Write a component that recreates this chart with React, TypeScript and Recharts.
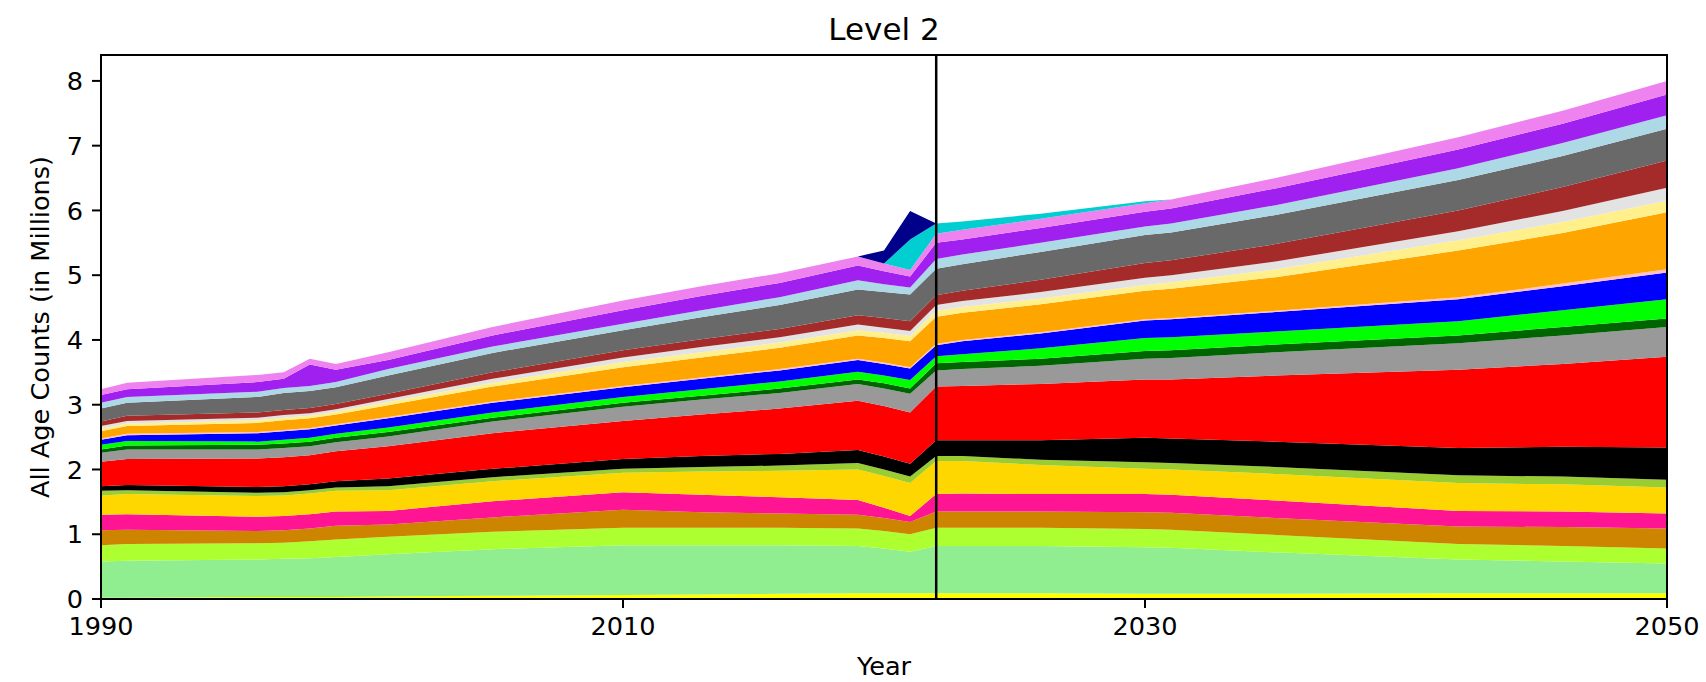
import { AreaChart, Area, XAxis, YAxis, ReferenceLine, ReferenceArea } from "recharts";

// years
const years = [1990, 1991, 1996, 1997, 1998, 1999, 2001, 2005, 2010, 2013, 2016, 2019, 2020, 2021, 2022, 2023, 2026, 2030, 2031, 2035, 2042, 2046, 2050];

// layer thickness (millions), bottom to top
const yellow = [0.02, 0.02, 0.03, 0.03, 0.03, 0.03, 0.04, 0.05, 0.06, 0.07, 0.08, 0.09, 0.09, 0.09, 0.09, 0.09, 0.09, 0.08, 0.08, 0.08, 0.09, 0.09, 0.09];
const lightGreen = [0.56, 0.57, 0.58, 0.59, 0.6, 0.62, 0.65, 0.72, 0.77, 0.76, 0.75, 0.73, 0.69, 0.64, 0.73, 0.73, 0.73, 0.72, 0.71, 0.64, 0.52, 0.49, 0.46];
const greenYellow = [0.25, 0.26, 0.25, 0.25, 0.26, 0.27, 0.27, 0.27, 0.27, 0.27, 0.27, 0.27, 0.27, 0.27, 0.28, 0.28, 0.28, 0.28, 0.28, 0.27, 0.24, 0.24, 0.23];
const ochre = [0.23, 0.22, 0.19, 0.19, 0.2, 0.21, 0.19, 0.22, 0.28, 0.24, 0.22, 0.21, 0.2, 0.19, 0.25, 0.25, 0.25, 0.26, 0.26, 0.26, 0.27, 0.29, 0.31];
const deepPink = [0.24, 0.24, 0.22, 0.22, 0.22, 0.22, 0.21, 0.25, 0.27, 0.27, 0.25, 0.23, 0.16, 0.09, 0.27, 0.28, 0.27, 0.28, 0.28, 0.27, 0.24, 0.24, 0.23];
const gold = [0.3, 0.31, 0.32, 0.32, 0.32, 0.32, 0.32, 0.31, 0.3, 0.36, 0.41, 0.47, 0.49, 0.51, 0.51, 0.5, 0.45, 0.39, 0.39, 0.41, 0.43, 0.42, 0.4];
const yellowGreen = [0.07, 0.06, 0.05, 0.05, 0.05, 0.05, 0.06, 0.06, 0.06, 0.07, 0.08, 0.1, 0.1, 0.1, 0.08, 0.08, 0.08, 0.1, 0.1, 0.11, 0.12, 0.12, 0.12];
const black = [0.07, 0.08, 0.09, 0.09, 0.09, 0.1, 0.12, 0.13, 0.15, 0.17, 0.18, 0.2, 0.2, 0.2, 0.24, 0.24, 0.3, 0.38, 0.38, 0.39, 0.42, 0.46, 0.5];
const red = [0.38, 0.4, 0.44, 0.45, 0.45, 0.46, 0.5, 0.55, 0.59, 0.64, 0.7, 0.76, 0.78, 0.79, 0.83, 0.84, 0.87, 0.9, 0.91, 1.02, 1.21, 1.28, 1.4];
const gray = [0.14, 0.15, 0.14, 0.14, 0.14, 0.14, 0.15, 0.18, 0.22, 0.23, 0.24, 0.26, 0.27, 0.29, 0.25, 0.26, 0.28, 0.32, 0.33, 0.36, 0.41, 0.44, 0.46];
const darkGreen = [0.05, 0.06, 0.07, 0.07, 0.07, 0.07, 0.07, 0.06, 0.06, 0.06, 0.07, 0.07, 0.08, 0.08, 0.11, 0.11, 0.11, 0.12, 0.12, 0.12, 0.12, 0.13, 0.13];
const lime = [0.07, 0.07, 0.05, 0.06, 0.06, 0.06, 0.07, 0.08, 0.09, 0.1, 0.11, 0.12, 0.12, 0.13, 0.11, 0.12, 0.16, 0.2, 0.2, 0.2, 0.22, 0.26, 0.3];
const blue = [0.08, 0.09, 0.13, 0.13, 0.13, 0.13, 0.14, 0.15, 0.15, 0.16, 0.17, 0.18, 0.18, 0.18, 0.17, 0.2, 0.23, 0.27, 0.28, 0.3, 0.34, 0.37, 0.41];
const pink = [0.02, 0.02, 0.02, 0.02, 0.02, 0.02, 0.02, 0.02, 0.02, 0.02, 0.02, 0.02, 0.02, 0.02, 0.02, 0.02, 0.02, 0.02, 0.02, 0.02, 0.03, 0.04, 0.05];
const orange = [0.11, 0.12, 0.14, 0.15, 0.15, 0.15, 0.18, 0.23, 0.29, 0.31, 0.33, 0.36, 0.38, 0.4, 0.42, 0.42, 0.43, 0.44, 0.45, 0.52, 0.72, 0.78, 0.88];
const khaki = [0.04, 0.04, 0.04, 0.04, 0.04, 0.04, 0.05, 0.06, 0.08, 0.08, 0.08, 0.08, 0.08, 0.08, 0.09, 0.09, 0.09, 0.09, 0.1, 0.12, 0.16, 0.17, 0.18];
const gainsboro = [0.04, 0.04, 0.04, 0.04, 0.04, 0.04, 0.05, 0.06, 0.07, 0.08, 0.08, 0.09, 0.08, 0.08, 0.09, 0.09, 0.1, 0.11, 0.11, 0.12, 0.14, 0.17, 0.2];
const brown = [0.07, 0.08, 0.08, 0.08, 0.08, 0.08, 0.08, 0.1, 0.11, 0.12, 0.13, 0.14, 0.15, 0.15, 0.15, 0.16, 0.19, 0.23, 0.23, 0.27, 0.32, 0.37, 0.42];
const dimGray = [0.2, 0.2, 0.24, 0.26, 0.26, 0.26, 0.28, 0.3, 0.31, 0.34, 0.37, 0.4, 0.4, 0.41, 0.41, 0.41, 0.43, 0.43, 0.43, 0.45, 0.47, 0.48, 0.49];
const lightBlue = [0.09, 0.09, 0.08, 0.08, 0.08, 0.08, 0.1, 0.1, 0.1, 0.11, 0.12, 0.14, 0.12, 0.11, 0.15, 0.15, 0.14, 0.13, 0.14, 0.15, 0.18, 0.2, 0.21];
const purple = [0.12, 0.12, 0.15, 0.14, 0.33, 0.19, 0.14, 0.17, 0.21, 0.22, 0.22, 0.23, 0.2, 0.17, 0.25, 0.23, 0.23, 0.23, 0.23, 0.26, 0.29, 0.3, 0.32];
const violet = [0.09, 0.1, 0.11, 0.1, 0.09, 0.09, 0.12, 0.13, 0.15, 0.15, 0.15, 0.14, 0.12, 0.1, 0.14, 0.15, 0.14, 0.13, 0.14, 0.16, 0.19, 0.2, 0.21];
const turquoise = [0, 0, 0, 0, 0, 0, 0, 0, 0, 0, 0, 0, 0, 0.47, 0.16, 0.13, 0.08, 0.03, 0, 0, 0, 0, 0];
const darkBlue = [0, 0, 0, 0, 0, 0, 0, 0, 0, 0, 0, 0, 0.2, 0.44, 0, 0, 0, 0, 0, 0, 0, 0, 0];

const xTicks = [1990, 2010, 2030, 2050];
const yTicks = [0, 1, 2, 3, 4, 5, 6, 7, 8];

const layers = [
  { key: "yellow", color: "#ffff00", values: yellow },
  { key: "lightGreen", color: "#90ee90", values: lightGreen },
  { key: "greenYellow", color: "#adff2f", values: greenYellow },
  { key: "ochre", color: "#cd8500", values: ochre },
  { key: "deepPink", color: "#ff1493", values: deepPink },
  { key: "gold", color: "#ffd700", values: gold },
  { key: "yellowGreen", color: "#9acd32", values: yellowGreen },
  { key: "black", color: "#000000", values: black },
  { key: "red", color: "#ff0000", values: red },
  { key: "gray", color: "#999999", values: gray },
  { key: "darkGreen", color: "#006400", values: darkGreen },
  { key: "lime", color: "#00ff00", values: lime },
  { key: "blue", color: "#0000ff", values: blue },
  { key: "pink", color: "#ffc0cb", values: pink },
  { key: "orange", color: "#ffa500", values: orange },
  { key: "khaki", color: "#fff08c", values: khaki },
  { key: "gainsboro", color: "#e3e3e3", values: gainsboro },
  { key: "brown", color: "#a52a2a", values: brown },
  { key: "dimGray", color: "#696969", values: dimGray },
  { key: "lightBlue", color: "#add8e6", values: lightBlue },
  { key: "purple", color: "#a020f0", values: purple },
  { key: "violet", color: "#ee82ee", values: violet },
  { key: "turquoise", color: "#00ced1", values: turquoise },
  { key: "darkBlue", color: "#00008b", values: darkBlue },
];

const data = years.map((year, i) => {
  const row: Record<string, number> = { year };
  layers.forEach((l) => {
    row[l.key] = l.values[i];
  });
  return row;
});

const font = "DejaVu Sans";

export default function App() {
  return (
    <div
      style={{
        position: "absolute",
        left: 0,
        top: 0,
        width: 1706,
        height: 682,
        background: "#fff",
        fontFamily: font,
        color: "#000",
      }}
    >
      <div
        style={{
          position: "absolute",
          left: 101,
          width: 1566,
          top: 11,
          lineHeight: "36px",
          fontSize: 31,
          textAlign: "center",
        }}
      >
        Level 2
      </div>
      <div
        style={{
          position: "absolute",
          left: 40 - 250,
          top: 327 - 15,
          width: 500,
          height: 30,
          lineHeight: "30px",
          fontSize: 25.6,
          textAlign: "center",
          transform: "rotate(-90deg)",
        }}
      >
        All Age Counts (in Millions)
      </div>
      <div
        style={{
          position: "absolute",
          left: 101,
          width: 1566,
          top: 651,
          lineHeight: "30px",
          fontSize: 25.6,
          textAlign: "center",
        }}
      >
        Year
      </div>
      <AreaChart
        width={1706}
        height={682}
        data={data}
        margin={{ top: 55, right: 39, left: 41, bottom: 38 }}
      >
        {layers.map((l) => (
          <Area
            key={l.key}
            dataKey={l.key}
            stackId="1"
            type="linear"
            fill={l.color}
            fillOpacity={1}
            stroke="none"
            dot={false}
            activeDot={false}
            isAnimationActive={false}
          />
        ))}
        <ReferenceLine x={2022} stroke="#000" strokeWidth={2.5} />
        <ReferenceArea
          x1={1990}
          x2={2050}
          y1={0}
          y2={8.4}
          fill="none"
          stroke="#000"
          strokeWidth={2}
        />
        <XAxis
          dataKey="year"
          type="number"
          domain={[1990, 2050]}
          ticks={xTicks}
          height={45}
          tickSize={9}
          tickMargin={9}
          tick={{ fontSize: 25.6, fill: "#000", fontFamily: font }}
          tickLine={{ stroke: "#000", strokeWidth: 2 }}
          axisLine={{ stroke: "#000", strokeWidth: 2 }}
        />
        <YAxis
          type="number"
          domain={[0, 8.4]}
          ticks={yTicks}
          width={60}
          tickSize={9}
          tickMargin={9}
          tick={{ fontSize: 25.6, fill: "#000", fontFamily: font }}
          tickLine={{ stroke: "#000", strokeWidth: 2 }}
          axisLine={{ stroke: "#000", strokeWidth: 2 }}
        />
      </AreaChart>
    </div>
  );
}
